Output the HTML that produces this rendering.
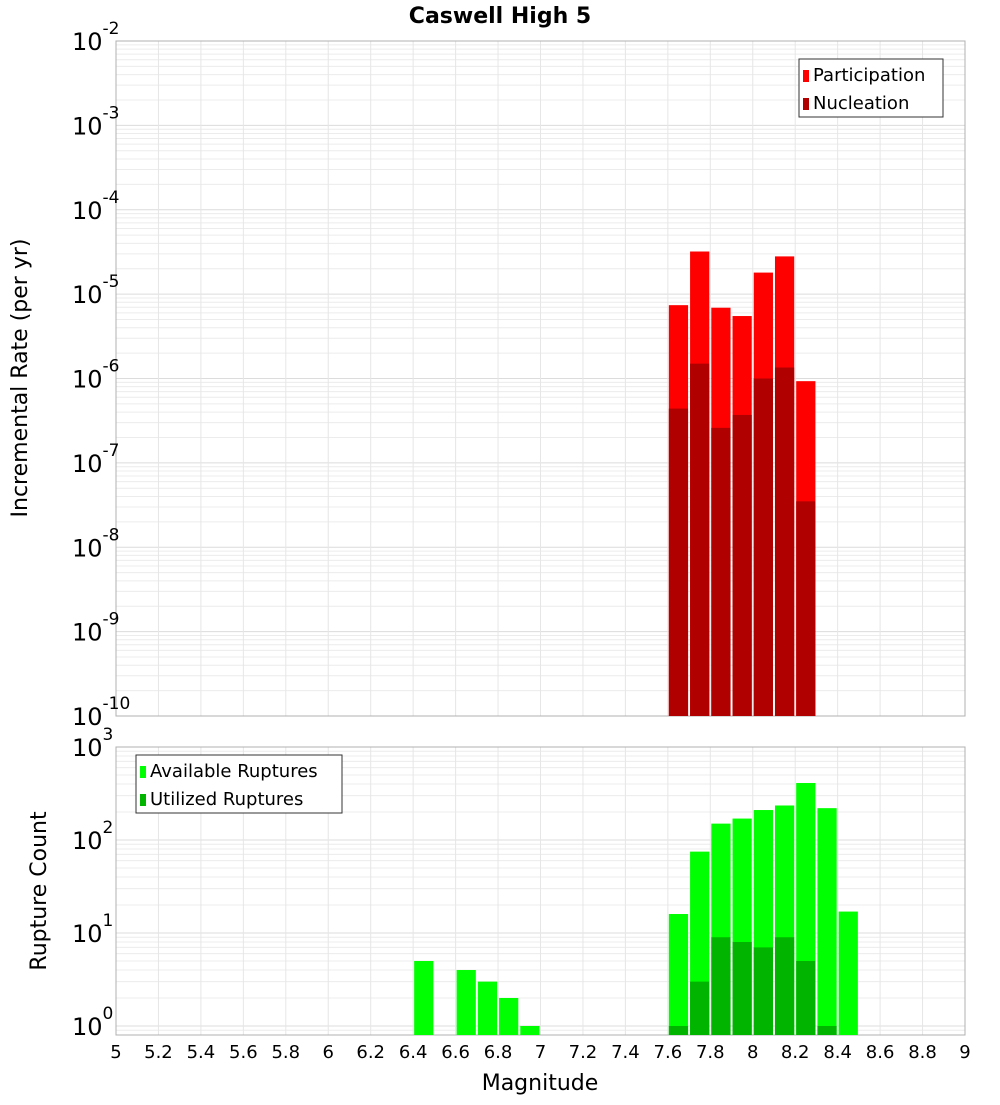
<!DOCTYPE html>
<html><head><meta charset="utf-8"><style>
body{margin:0;background:#fff;}
svg text{font-family:"DejaVu Sans","Liberation Sans",sans-serif;}
</style></head><body>
<svg id="c" width="1000" height="1100" xmlns="http://www.w3.org/2000/svg">
<text x="500" y="23" text-anchor="middle" font-size="22" font-weight="bold">Caswell High 5</text>
<text transform="translate(27,378) rotate(-90)" text-anchor="middle" font-size="22">Incremental Rate (per yr)</text>
<text transform="translate(46,891) rotate(-90)" text-anchor="middle" font-size="22">Rupture Count</text>
<text x="540" y="1090" text-anchor="middle" font-size="22">Magnitude</text>
<g id="top"></g><g id="bot"></g>
</svg>
<script>
const binCenters=[7.65,7.75,7.85,7.95,8.05,8.15,8.25];
const participation=[7.4e-6,3.2e-5,6.9e-6,5.5e-6,1.8e-5,2.8e-5,9.3e-7];
const nucleation=[4.4e-7,1.5e-6,2.6e-7,3.7e-7,1.0e-6,1.35e-6,3.5e-8];
const availMags=[6.45,6.65,6.75,6.85,6.95,7.65,7.75,7.85,7.95,8.05,8.15,8.25,8.35,8.45];
const available=[5,4,3,2,1,16,75,150,170,210,235,410,220,17];
const utilMags=[7.65,7.75,7.85,7.95,8.05,8.15,8.25,8.35];
const utilized=[1,3,9,8,7,9,5,1];
const xTicks=["5","5.2","5.4","5.6","5.8","6","6.2","6.4","6.6","6.8","7","7.2","7.4","7.6","7.8","8","8.2","8.4","8.6","8.8","9"];
const topExps=[-2,-3,-4,-5,-6,-7,-8,-9,-10];
const botExps=[3,2,1,0];

const NS="http://www.w3.org/2000/svg";
const X0=116,X1=965;
const x=m=>X0+(m-5)/4*(X1-X0);
function mk(p,t,a){const e=document.createElementNS(NS,t);for(const k in a)e.setAttribute(k,a[k]);p.appendChild(e);return e;}
function panel(g,top,bottom,yTop,yMin,exps,name){
  const y=v=>top+(Math.log10(yTop)-Math.log10(v))/(Math.log10(yTop)-Math.log10(yMin))*(bottom-top);
  const lo=Math.floor(Math.log10(yMin)),hi=Math.log10(yTop);
  for(let d=lo;d<hi;d++)for(let k=1;k<10;k++){const v=k*Math.pow(10,d);if(v<yMin||v>yTop)continue;const yy=y(v);
    const l=mk(g,'line',{x1:X0,x2:X1,y1:yy,y2:yy,stroke:k==1?'#dcdcdc':'#ececec','stroke-width':1});
    }
  for(let i=0;i<xTicks.length;i++){const xx=x(parseFloat(xTicks[i]));
    const l=mk(g,'line',{x1:xx,x2:xx,y1:top,y2:bottom,stroke:'#e6e6e6','stroke-width':1});
    }
  const r=mk(g,'rect',{x:X0,y:top,width:X1-X0,height:bottom-top,fill:'none',stroke:'#b0b0b0','stroke-width':1});
  
  exps.forEach(e=>{const yy=y(Math.pow(10,e));
    const t=mk(g,'text',{x:72,y:yy+9,'font-size':24});
    
    t.textContent='10';const s=mk(t,'tspan',{dy:-16,'font-size':17});s.textContent=String(e);});
  return y;
}
function bars(g,y,mags,vals,base,color,name){
  mags.forEach((m,i)=>{const x0=x(m-0.05)+1,x1=x(m+0.05)-1;const yt=y(vals[i]);
    const b=mk(g,'rect',{x:x0,y:yt,width:x1-x0,height:base-yt,fill:color});
    });
}
function legend(g,lx,ly,w,items,name){
  const r=mk(g,'rect',{x:lx,y:ly,width:w,height:58,fill:'#fff',stroke:'#333','stroke-width':1});
  
  items.forEach((it,i)=>{const s=mk(g,'rect',{x:lx+4,y:ly+11+i*28,width:6,height:12,fill:it[1]});
    
    const t=mk(g,'text',{x:lx+14,y:ly+22+i*28,'font-size':18});
    t.textContent=it[0];});
}
const gt=document.getElementById('top'),gb=document.getElementById('bot');
const yt=panel(gt,41,716,1e-2,1e-10,topExps,'top');
bars(gt,yt,binCenters,participation,716,'#ff0000','participation');
bars(gt,yt,binCenters,nucleation,716,'#b00000','nucleation');
legend(gt,799,59,144,[['Participation','#ff0000'],['Nucleation','#b00000']],'top-legend');
const yb=panel(gb,747,1035,1000,Math.pow(10,-9/93),botExps,'bottom');
bars(gb,yb,availMags,available,1035,'#00ff00','available');
bars(gb,yb,utilMags,utilized,1035,'#00b400','utilized');
legend(gb,136,755,206,[['Available Ruptures','#00ff00'],['Utilized Ruptures','#00b400']],'bottom-legend');
xTicks.forEach(s=>{const t=mk(gb,'text',{x:x(parseFloat(s)),y:1058,'font-size':18,'text-anchor':'middle'});
  t.textContent=s;});
</script>
</body></html>
